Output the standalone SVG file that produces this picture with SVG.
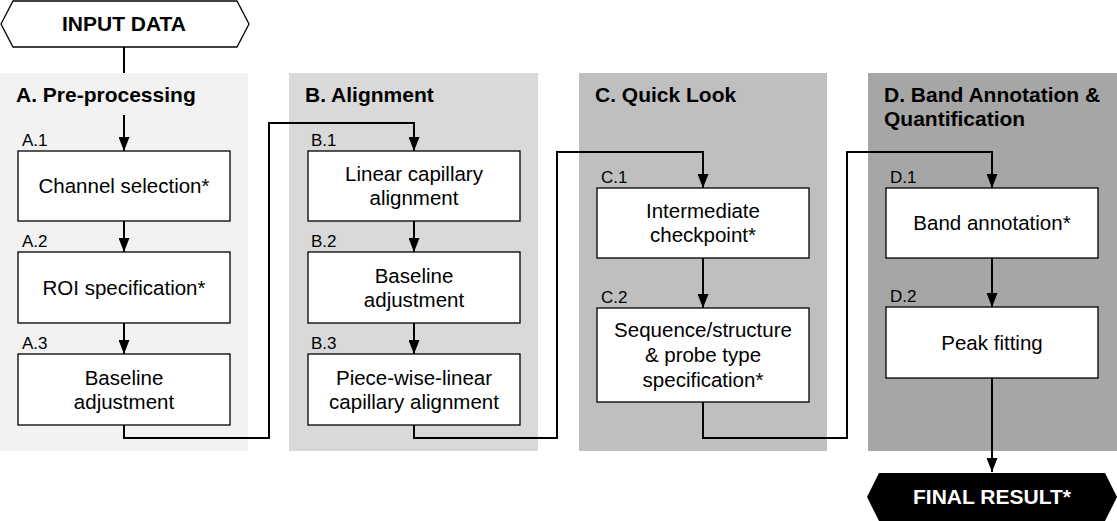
<svg xmlns="http://www.w3.org/2000/svg" width="1117" height="521" viewBox="0 0 1117 521">
<defs>
<marker id="arr" markerUnits="userSpaceOnUse" viewBox="0 0 14 11" markerWidth="14" markerHeight="11" refX="14" refY="5.5" orient="auto">
<path d="M0,0 L14,5.5 L0,11 z" fill="#000"/>
</marker>
<style>
text{font-family:"Liberation Sans",Arial,sans-serif;fill:#000}
.title{font-size:21px;font-weight:bold}
.box{fill:#fff;stroke:#000;stroke-width:1.3}
.bt{font-size:20.5px;text-anchor:middle}
.lbl{font-size:17px}
.con{fill:none;stroke:#000;stroke-width:2}
.arr{marker-end:url(#arr)}
</style>
</defs>
<rect width="1117" height="521" fill="#fff"/>

<g id="panelA"><rect x="0" y="73" width="248" height="378" fill="#f2f2f2"/><text class="title" x="16" y="102">A. Pre-processing</text></g>
<g id="panelB"><rect x="289" y="73" width="249" height="378" fill="#d9d9d9"/><text class="title" x="305" y="102">B. Alignment</text></g>
<g id="panelC"><rect x="579" y="73" width="248" height="378" fill="#bfbfbf"/><text class="title" x="595" y="102">C. Quick Look</text></g>
<g id="panelD"><rect x="868" y="73" width="249" height="378" fill="#a6a6a6"/><text class="title" x="884" y="102">D. Band Annotation &amp;</text><text class="title" x="884" y="126">Quantification</text></g>

<g id="input"><polygon points="1,24 13,1 237,1 249,24 237,47 13,47" fill="#fff" stroke="#000" stroke-width="1.3"/><text class="title" x="124" y="31" text-anchor="middle">INPUT DATA</text></g>

<g id="connectors">
<path class="con" d="M124,47 V73"/>
<path class="con arr" d="M124,115 V151"/>
<path class="con arr" d="M124,221 V252"/>
<path class="con arr" d="M124,323 V354"/>
<path class="con arr" d="M124,425 V438 H269 V123 H414 V151"/>
<path class="con arr" d="M414,221 V252"/>
<path class="con arr" d="M414,323 V354"/>
<path class="con arr" d="M414,425 V438 H557 V152 H703 V188"/>
<path class="con arr" d="M703,258 V308"/>
<path class="con arr" d="M703,402 V438 H847 V152 H992 V188"/>
<path class="con arr" d="M992,258 V307"/>
<path class="con arr" d="M992,378 V472"/>
</g>

<g id="A1"><text class="lbl" x="22" y="146">A.1</text><rect class="box" x="18" y="151" width="212" height="70"/><text class="bt" x="124" y="193">Channel selection*</text></g>
<g id="A2"><text class="lbl" x="22" y="247">A.2</text><rect class="box" x="18" y="252" width="212" height="71"/><text class="bt" x="124" y="294.5">ROI specification*</text></g>
<g id="A3"><text class="lbl" x="22" y="349">A.3</text><rect class="box" x="18" y="354" width="212" height="71"/><text class="bt" x="124" y="384.5">Baseline</text><text class="bt" x="124" y="408.5">adjustment</text></g>

<g id="B1"><text class="lbl" x="311" y="146">B.1</text><rect class="box" x="308" y="151" width="212" height="70"/><text class="bt" x="414" y="181">Linear capillary</text><text class="bt" x="414" y="205">alignment</text></g>
<g id="B2"><text class="lbl" x="311" y="247">B.2</text><rect class="box" x="308" y="252" width="212" height="71"/><text class="bt" x="414" y="282.5">Baseline</text><text class="bt" x="414" y="306.5">adjustment</text></g>
<g id="B3"><text class="lbl" x="311" y="349">B.3</text><rect class="box" x="308" y="354" width="212" height="71"/><text class="bt" x="414" y="384.5">Piece-wise-linear</text><text class="bt" x="414" y="408.5">capillary alignment</text></g>

<g id="C1"><text class="lbl" x="601" y="183">C.1</text><rect class="box" x="597" y="188" width="212" height="70"/><text class="bt" x="703" y="218">Intermediate</text><text class="bt" x="703" y="242">checkpoint*</text></g>
<g id="C2"><text class="lbl" x="601" y="303">C.2</text><rect class="box" x="597" y="308" width="212" height="94"/><text class="bt" x="703" y="337">Sequence/structure</text><text class="bt" x="703" y="362">&amp; probe type</text><text class="bt" x="703" y="387">specification*</text></g>

<g id="D1"><text class="lbl" x="890" y="183">D.1</text><rect class="box" x="886" y="188" width="212" height="70"/><text class="bt" x="992" y="230">Band annotation*</text></g>
<g id="D2"><text class="lbl" x="890" y="302">D.2</text><rect class="box" x="886" y="307" width="212" height="71"/><text class="bt" x="992" y="349.5">Peak fitting</text></g>

<g id="final"><polygon points="867,497 879,473 1105,473 1117,497 1105,521 879,521" fill="#000"/><text class="title" x="992" y="504" text-anchor="middle" style="fill:#fff">FINAL RESULT*</text></g>
</svg>
